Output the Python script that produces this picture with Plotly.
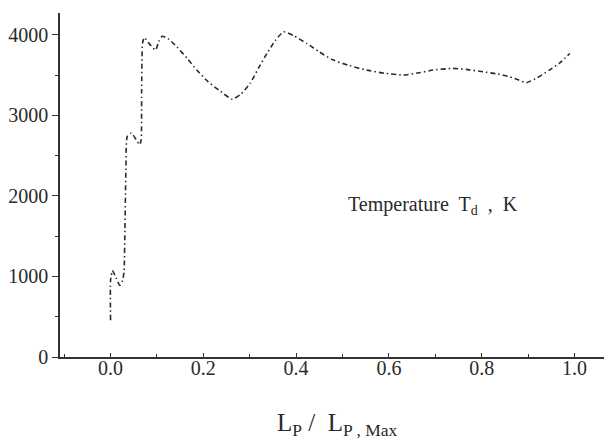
import plotly.graph_objects as go

# Data
lp_ratio = [0.0, 0.0, 0.004, 0.012, 0.020, 0.026, 0.029, 0.031, 0.033, 0.036, 0.045, 0.055, 0.063,
            0.066, 0.067, 0.069, 0.073, 0.085, 0.097, 0.104, 0.111, 0.125, 0.143, 0.165, 0.186,
            0.210, 0.237, 0.262, 0.280, 0.301, 0.320, 0.337, 0.355, 0.373, 0.395, 0.423, 0.450,
            0.480, 0.515, 0.552, 0.590, 0.631, 0.665, 0.695, 0.738, 0.770, 0.803, 0.835, 0.860,
            0.880, 0.896, 0.920, 0.946, 0.970, 0.990]
temperature = [457, 950, 1074, 980, 889, 950, 1058, 1600, 2300, 2740, 2783, 2700, 2638,
               2700, 3300, 3900, 3968, 3880, 3811, 3920, 3984, 3950, 3852, 3710, 3564,
               3420, 3300, 3203, 3260, 3400, 3600, 3770, 3930, 4040, 3990, 3894, 3790,
               3688, 3620, 3564, 3525, 3503, 3530, 3564, 3585, 3570, 3543, 3515, 3481,
               3440, 3407, 3470, 3564, 3660, 3770]

x_ticks = [0.0, 0.2, 0.4, 0.6, 0.8, 1.0]
x_tick_labels = ["0.0", "0.2", "0.4", "0.6", "0.8", "1.0"]
y_ticks = [0, 1000, 2000, 3000, 4000]
y_tick_labels = ["0", "1000", "2000", "3000", "4000"]

SERIF = "'Liberation Serif', 'Times New Roman', Times, serif"
INK = "#2a2a2a"

fig = go.Figure()
fig.add_trace(go.Scatter(
    x=lp_ratio, y=temperature, mode="lines",
    line=dict(color=INK, width=1.6, dash="5px,3px,1.5px,3px", shape="spline", smoothing=0.5),
    showlegend=False, hoverinfo="skip",
))

# page has an 8px body margin; plot area spans page px x 60..612, y 13..357
fig.update_layout(
    width=604, height=434,
    margin=dict(l=52, r=0, t=5, b=85),
    paper_bgcolor="white", plot_bgcolor="white",
    font=dict(family=SERIF, color=INK, size=20),
    xaxis=dict(
        range=[-0.109, 1.081], showgrid=False, zeroline=False,
        showline=True, linecolor="#333", linewidth=1.5,
        tickvals=x_ticks, ticktext=x_tick_labels,
        ticks="inside", ticklen=4, tickcolor="#333", tickwidth=1,
        minor=dict(dtick=0.1, tick0=0, ticks="inside", ticklen=3, tickcolor="#333"),
        tickfont=dict(family=SERIF, size=20, color=INK),
        ticklabelstandoff=-8,
    ),
    yaxis=dict(
        range=[0, 4273], showgrid=False, zeroline=False,
        showline=True, linecolor="#333", linewidth=1.5,
        tickvals=y_ticks, ticktext=y_tick_labels,
        ticks="outside", ticklen=6, tickcolor="#333", tickwidth=1,
        minor=dict(dtick=500, tick0=0, ticks="outside", ticklen=3, tickcolor="#333"),
        tickfont=dict(family=SERIF, size=20, color=INK),
        ticklabelstandoff=0,
    ),
    annotations=[
        dict(text="Temperature  T<sub>d</sub>  ,  K", x=433, y=205,
             showarrow=False, font=dict(family=SERIF, size=20, color=INK)),
        dict(text="L<sub>P</sub> /  L<sub>P , Max</sub>", x=337, y=424,
             showarrow=False, font=dict(family=SERIF, size=25, color=INK)),
    ],
)

# convert page-pixel annotation positions to paper coords of the plot area
for a in fig.layout.annotations:
    px, py = a.x, a.y
    a.xref = "paper"
    a.yref = "paper"
    a.x = (px - 60) / 552
    a.y = (357 - py) / 344
    a.xanchor = "center"
    a.yanchor = "middle"

fig.write_html("out.html")
